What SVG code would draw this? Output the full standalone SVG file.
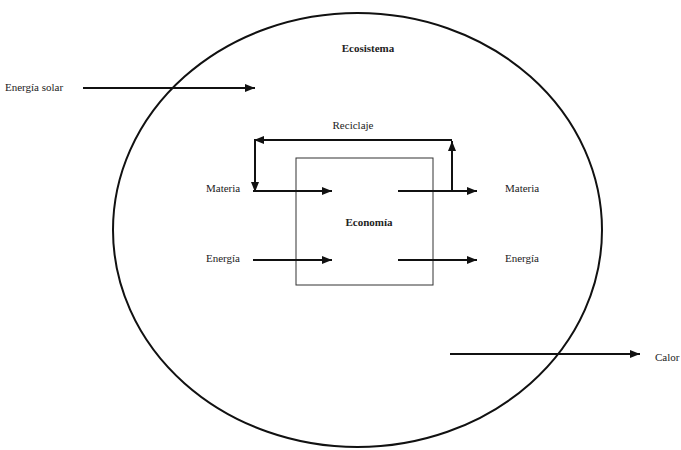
<svg xmlns="http://www.w3.org/2000/svg" width="681" height="450" viewBox="0 0 681 450">
<style>
.t{font-size:11px;fill:#222}
.b{font-weight:bold}
.c{stroke:#111;stroke-width:2;fill:none}
</style>
<defs>
<marker id="ah" markerUnits="userSpaceOnUse" markerWidth="10" markerHeight="10" viewBox="0 0 10 10" refX="10" refY="5" orient="auto">
<path d="M0,1 L10,5 L0,9 Z" fill="#111"/>
</marker>
</defs>
<rect width="681" height="450" fill="#fff"/>
<g font-family="'Liberation Serif', 'DejaVu Serif', serif">
<g id="ecosistema">
<ellipse cx="357.5" cy="230" rx="244.5" ry="217" fill="none" stroke="#111" stroke-width="2"/>
<text class="t b" x="368" y="52" text-anchor="middle">Ecosistema</text>
</g>
<g id="economia">
<rect x="296" y="158" width="137" height="127" fill="none" stroke="#333" stroke-width="1"/>
<text class="t b" x="369" y="226" text-anchor="middle">Economía</text>
</g>
<g id="labels">
<text class="t" x="5" y="91">Energía solar</text>
<text class="t" x="353" y="129" text-anchor="middle">Reciclaje</text>
<text class="t" x="206" y="192">Materia</text>
<text class="t" x="505" y="192">Materia</text>
<text class="t" x="206" y="262">Energía</text>
<text class="t" x="505" y="262">Energía</text>
<text class="t" x="655" y="361">Calor</text>
</g>
</g>
<g id="connectors">
<line class="c" x1="83" y1="88" x2="255" y2="88" marker-end="url(#ah)"/>
<line class="c" x1="253" y1="191" x2="332" y2="191" marker-end="url(#ah)"/>
<line class="c" x1="398" y1="191" x2="477" y2="191" marker-end="url(#ah)"/>
<line class="c" x1="253" y1="260" x2="332" y2="260" marker-end="url(#ah)"/>
<line class="c" x1="398" y1="260" x2="477" y2="260" marker-end="url(#ah)"/>
<line class="c" x1="452" y1="191" x2="452" y2="141" marker-end="url(#ah)"/>
<line class="c" x1="452" y1="140" x2="254" y2="140" marker-end="url(#ah)"/>
<line class="c" x1="255" y1="140" x2="255" y2="192" marker-end="url(#ah)"/>
<line class="c" x1="450" y1="354" x2="640" y2="354" marker-end="url(#ah)"/>
</g>
</svg>
